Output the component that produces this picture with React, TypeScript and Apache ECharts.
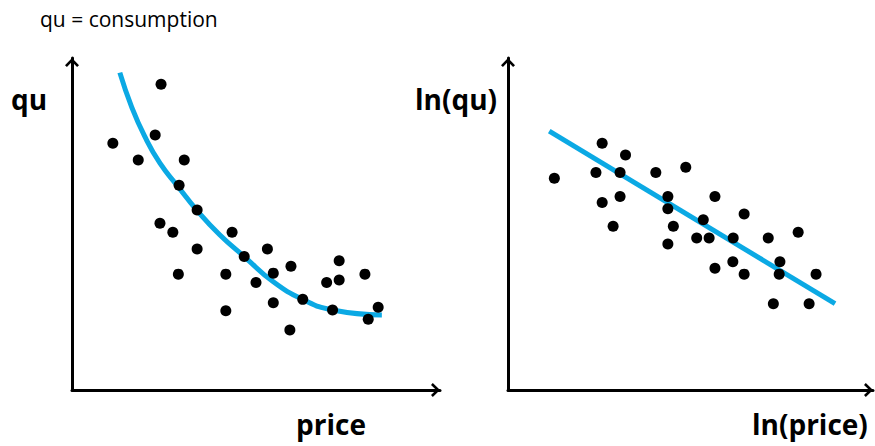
import React, { useEffect, useRef } from "react";
import * as echarts from "echarts";

// Left panel: price vs qu (scatter) with fitted decay curve
const priceQu: [number, number][] = [
  [24.2, 92.1], [11.1, 74.3], [22.6, 76.8], [18.0, 69.3], [30.5, 69.3],
  [29.1, 61.7], [34.0, 54.2], [23.9, 50.2], [27.4, 47.5], [43.5, 47.5],
  [34.0, 42.5], [28.9, 34.9], [46.8, 40.2], [53.1, 42.5], [41.8, 34.9],
  [54.7, 35.2], [59.5, 37.3], [50.0, 32.4], [41.8, 23.9], [54.7, 26.3],
  [59.2, 18.1], [62.7, 27.3], [69.2, 32.4], [72.6, 38.9], [72.6, 33.1],
  [70.8, 24.1], [79.6, 34.9], [80.5, 21.3], [83.2, 24.9],
];
const priceQuFit: [number, number][] = [
  [13.0, 95.6], [16.2, 85.3], [19.8, 76.3], [23.9, 68.3], [28.5, 61.7],
  [33.9, 54.2], [40.2, 46.7], [46.8, 40.2], [54.7, 32.6], [62.7, 27.3],
  [70.8, 24.1], [84.2, 22.6],
];

// Right panel: ln(price) vs ln(qu) with fitted straight line
const lnPriceLnQu: [number, number][] = [
  [12.7, 63.8], [25.8, 74.3], [32.2, 70.8], [24.1, 65.5], [30.7, 65.5],
  [25.8, 56.5], [30.7, 58.3], [28.8, 49.3], [40.5, 65.5], [48.7, 67.1],
  [43.8, 58.3], [43.8, 54.6], [45.3, 49.3], [43.8, 44.0], [53.5, 51.3],
  [51.7, 45.8], [55.1, 45.8], [56.7, 58.3], [64.7, 53.0], [61.7, 45.8],
  [56.7, 36.7], [61.6, 38.6], [64.7, 34.9], [71.3, 45.8], [79.5, 47.5],
  [74.5, 38.6], [74.3, 34.9], [84.4, 34.9], [72.7, 26.0], [82.5, 26.0],
];
const lnFit: [number, number][] = [
  [11.3, 78.0], [89.6, 26.0],
];

const noteText = "qu = consumption";
const leftXName = "price";
const leftYName = "qu";
const rightXName = "ln(price)";
const rightYName = "ln(qu)";

const BLUE = "#0BA9E4";
const ARROW = "path://M7,0L14,7.2L12.1,9L7,3.8L1.9,9L0,7.2Z";

export default function App() {
  const ref = useRef<HTMLDivElement>(null);

  useEffect(() => {
    if (!ref.current) return;
    const chart = echarts.init(ref.current, undefined, { renderer: "svg" });

    const axisLine = {
      show: true,
      onZero: false,
      symbol: ["none", ARROW],
      symbolSize: [14, 9],
      symbolOffset: [0, -4.5],
      lineStyle: { color: "#000", width: 3 },
    };
    const baseAxis = {
      type: "value" as const,
      min: 0,
      max: 100,
      axisLine,
      axisTick: { show: false },
      axisLabel: { show: false },
      splitLine: { show: false },
    };

    const boldFont = {
      fontFamily: "Open Sans",
      fontWeight: "bold",
      fontSize: 28,
      fill: "#000",
      verticalAlign: "middle",
      align: "left",
    };

    chart.setOption({
      animation: false,
      backgroundColor: "#fff",
      grid: [
        { left: 72, top: 58, width: 368, height: 332 },
        { left: 508, top: 58, width: 365, height: 332 },
      ],
      xAxis: [
        { ...baseAxis, gridIndex: 0 },
        { ...baseAxis, gridIndex: 1 },
      ],
      yAxis: [
        { ...baseAxis, gridIndex: 0 },
        { ...baseAxis, gridIndex: 1 },
      ],
      series: [
        {
          type: "line",
          xAxisIndex: 0,
          yAxisIndex: 0,
          data: priceQuFit,
          smooth: true,
          showSymbol: false,
          symbol: "none",
          lineStyle: { color: BLUE, width: 5 },
          z: 2,
        },
        {
          type: "scatter",
          xAxisIndex: 0,
          yAxisIndex: 0,
          data: priceQu,
          symbolSize: 11,
          itemStyle: { color: "#000", opacity: 1 },
          z: 3,
        },
        {
          type: "line",
          xAxisIndex: 1,
          yAxisIndex: 1,
          data: lnFit,
          showSymbol: false,
          symbol: "none",
          lineStyle: { color: BLUE, width: 5 },
          z: 2,
        },
        {
          type: "scatter",
          xAxisIndex: 1,
          yAxisIndex: 1,
          data: lnPriceLnQu,
          symbolSize: 11,
          itemStyle: { color: "#000", opacity: 1 },
          z: 3,
        },
      ],
      graphic: [
        {
          type: "text",
          x: 40,
          y: 19,
          style: {
            text: noteText,
            fontFamily: "Open Sans",
            fontSize: 21,
            fill: "#000",
            verticalAlign: "middle",
            align: "left",
          },
        },
        { type: "text", x: 11, y: 99, style: { ...boldFont, text: leftYName } },
        { type: "text", x: 415, y: 99, style: { ...boldFont, text: rightYName } },
        { type: "text", x: 296, y: 424, style: { ...boldFont, text: leftXName } },
        { type: "text", x: 752, y: 424, style: { ...boldFont, text: rightXName } },
      ],
    });

    return () => chart.dispose();
  }, []);

  return (
    <div
      ref={ref}
      style={{ position: "fixed", left: 0, top: 0, width: 875, height: 446 }}
    />
  );
}
